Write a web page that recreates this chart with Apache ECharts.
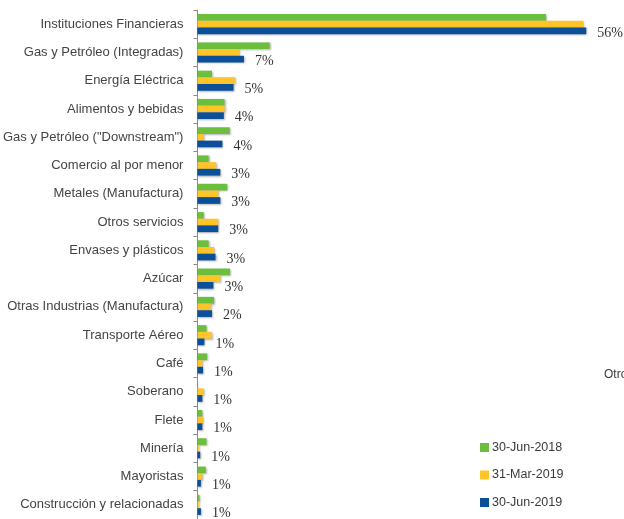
<!DOCTYPE html>
<html>
<head>
<meta charset="utf-8">
<script src="https://cdn.jsdelivr.net/npm/echarts@6/dist/echarts.min.js"></script>
<style>html,body{margin:0;padding:0;background:#fff}#c{width:624px;height:519px}</style>
</head>
<body>
<div id="c"></div>
<script>
var categories = ["Instituciones Financieras","Gas y Petróleo (Integradas)","Energía Eléctrica","Alimentos y bebidas","Gas y Petróleo (\"Downstream\")","Comercio al por menor","Metales (Manufactura)","Otros servicios","Envases y plásticos","Azúcar","Otras Industrias (Manufactura)","Transporte Aéreo","Café","Soberano","Flete","Minería","Mayoristas","Construcción y relacionadas"];
var seriesNames = ["30-Jun-2018","31-Mar-2019","30-Jun-2019"];
var jun2018 = [50.2,10.4,2.1,3.9,4.65,1.6,4.3,0.9,1.6,4.7,2.4,1.3,1.4,0.05,0.7,1.3,1.2,0.3];
var mar2019 = [55.6,6.0,5.4,3.9,0.9,2.7,3.0,3.0,2.4,3.3,1.9,2.1,0.7,0.9,0.8,0.2,0.7,0.2];
var jun2019 = [56.0,6.7,5.2,3.8,3.6,3.3,3.3,3.0,2.6,2.3,2.1,1.0,0.8,0.7,0.7,0.4,0.5,0.5];
var jun2019Labels = ["56%","7%","5%","4%","4%","3%","3%","3%","3%","3%","2%","1%","1%","1%","1%","1%","1%","1%"];
var colors = ["#6cbf3c","#fec428","#0b4f98"];

var chart = echarts.init(document.getElementById('c'), null, {renderer:'canvas'});
var shadow = {shadowColor:'rgba(0,0,0,0.3)', shadowBlur:2, shadowOffsetX:1, shadowOffsetY:1};
function mk(i, data){
  var s = {
    name: seriesNames[i], type:'bar', data:data,
    barGap:'0%', barCategoryGap:'29%',
    itemStyle: Object.assign({color:colors[i]}, shadow),
    animation:false
  };
  if(i===2){
    s.label = {show:true, position:'right', distance:11, offset:[0,2],
      fontFamily:'Liberation Serif', fontSize:14, color:'#333',
      formatter:function(p){return jun2019Labels[p.dataIndex];}};
  }
  return s;
}
chart.setOption({
  animation:false,
  color: colors,
  grid:{left:197, right:10, top:10, height:510, containLabel:false},
  xAxis:{type:'value', min:0, max:60, show:false},
  yAxis:{type:'category', data:categories, inverse:true,
    axisLine:{lineStyle:{color:'#8a8a8a', width:1}},
    axisTick:{show:true, length:4, lineStyle:{color:'#8a8a8a'}},
    axisLabel:{fontFamily:'Liberation Sans', fontSize:13, color:'#444', margin:14}},
  legend:{orient:'vertical', left:480, top:441, padding:0, itemWidth:9, itemHeight:9, itemGap:14.5,
    icon:'rect', textStyle:{fontFamily:'Liberation Sans', fontSize:12.5, color:'#3a3a3a', padding:[0,0,0,-2]},
    data:seriesNames},
  graphic:[{type:'text', left:604, top:369, style:{text:'Otros', fontFamily:'Liberation Sans', fontSize:12, fill:'#3a3a3a'}}],
  series:[mk(0,jun2018), mk(1,mar2019), mk(2,jun2019)]
});
</script>
</body>
</html>
